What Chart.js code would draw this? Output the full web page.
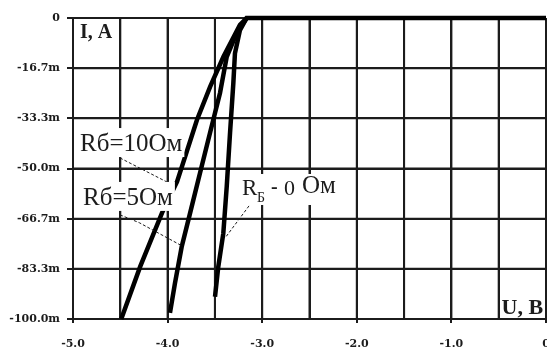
<!DOCTYPE html>
<html>
<head>
<meta charset="utf-8">
<script src="https://cdn.jsdelivr.net/npm/chart.js@4.4.1/dist/chart.umd.min.js"></script>
<style>
  html, body { margin: 0; padding: 0; background: #fff; }
  #wrap { width: 547px; height: 351px; }
</style>
</head>
<body>
<div id="wrap"><canvas id="vac"></canvas></div>
<script>
// ВАХ: ток (мА) от напряжения (В) при разных Rб
const xGrid = [-5, -4.5, -4, -3.5, -3, -2.5, -2, -1.5, -1, -0.5, 0];
const xTickLabels = ["-5.0", "", "-4.0", "", "-3.0", "", "-2.0", "", "-1.0", "", "0"];
const yTickValues = [0, -16.67, -33.33, -50, -66.67, -83.33, -100];
const yTickLabels = ["0", "-16.7m", "-33.3m", "-50.0m", "-66.7m", "-83.3m", "-100.0m"];

const r10U = [-4.49, -4.29, -4.06, -3.90, -3.69, -3.55, -3.41, -3.235, -3.164];
const r10I = [-100, -82.6, -64.8, -54.4, -33.9, -22.8, -12.9, -2.3, 0];

const r5U = [-3.975, -3.922, -3.851, -3.763, -3.658, -3.552, -3.446, -3.375, -3.27, -3.164];
const r5I = [-98, -88.1, -76, -64.9, -51.6, -38.2, -24.9, -12.9, -5, 0];

const r0U = [-3.499, -3.464, -3.411, -3.375, -3.34, -3.305, -3.288, -3.235, -3.164, 0];
const r0I = [-92.6, -82.6, -71.5, -56, -38.2, -21.6, -11.7, -4, 0, 0];

const toPoints = (us, is) => us.map((u, k) => ({ x: u, y: is[k] }));

const ink = "#1c1c1c";

function curve(points) {
    return {
        data: points,
        borderColor: "#000",
        borderWidth: 4.5,
        pointRadius: 0,
        tension: 0,
        clip: 4,
        order: 0
    };
}

// линии сетки как отдельные наборы (рисуются под кривыми)
function gridLine(points) {
    return {
        data: points,
        borderColor: ink,
        borderWidth: 2,
        pointRadius: 0,
        tension: 0,
        clip: 3,
        order: 10
    };
}
const gridSets = [
    ...xGrid.map(v => gridLine([{ x: v, y: -100 }, { x: v, y: 0 }])),
    ...yTickValues.map(v => gridLine([{ x: -5, y: v }, { x: 0, y: v }]))
];

// подписи и выноски
const notes = {
    id: "notes",
    afterDatasetsDraw(chart) {
        const { ctx, scales } = chart;
        const px = v => scales.x.getPixelForValue(v);
        const py = v => scales.y.getPixelForValue(v);
        ctx.save();

        // выноски
        ctx.strokeStyle = ink;
        ctx.lineWidth = 1;
        ctx.setLineDash([3, 2]);
        const leaders = [
            [[-4.503, -46.5], [-4.006, -54.5]],
            [[-4.503, -65.4], [-4.30, -68], [-3.848, -75.7]],
            [[-3.108, -61.1], [-3.393, -73.1]]
        ];
        leaders.forEach(l => {
            ctx.beginPath();
            l.forEach((p, k) => k ? ctx.lineTo(px(p[0]), py(p[1])) : ctx.moveTo(px(p[0]), py(p[1])));
            ctx.stroke();
        });
        ctx.setLineDash([]);

        ctx.textBaseline = "alphabetic";
        ctx.textAlign = "left";

        // Rб=10Ом и Rб=5Ом на белом фоне
        ctx.font = "25px 'Liberation Serif'";
        [["Rб=10Ом", -4.926, -44.2], ["Rб=5Ом", -4.894, -62.1]].forEach(([t, u, i]) => {
            const x = px(u), y = py(i);
            const w = ctx.measureText(t).width;
            ctx.fillStyle = "#fff";
            ctx.fillRect(x - 3, y - 23, w + 5, 29);
            ctx.fillStyle = ink;
            ctx.fillText(t, x, y);
        });

        // RБ - 0 Ом
        {
            const x = px(-3.213), y = py(-58.8);
            ctx.fillStyle = "#fff";
            ctx.fillRect(x - 2, y - 21, 106, 31);
            ctx.fillStyle = ink;
            ctx.font = "23px 'Liberation Serif'";
            ctx.fillText("R", x, y);
            ctx.font = "14px 'Liberation Serif'";
            ctx.fillText("Б", x + 15, y + 7);
            ctx.font = "bold 20px 'Liberation Serif'";
            ctx.fillText("-", x + 29, y - 2);
            ctx.font = "22px 'Liberation Serif'";
            ctx.fillText("0", x + 42, y);
            ctx.font = "25px 'Liberation Serif'";
            ctx.fillText("Ом", x + 60, y - 2);
        }

        // подписи осей
        ctx.font = "bold 20px 'Liberation Serif'";
        ctx.fillText("I, A", px(-4.926), py(-6.6));
        ctx.font = "bold 22px 'Liberation Serif'";
        ctx.fillText("U, B", px(-0.47), py(-98.3));

        ctx.restore();
    }
};

new Chart(document.getElementById("vac"), {
    type: "line",
    data: {
        datasets: [
            curve(toPoints(r10U, r10I)),
            curve(toPoints(r5U, r5I)),
            curve(toPoints(r0U, r0I)),
            ...gridSets
        ]
    },
    options: {
        responsive: true,
        maintainAspectRatio: false,
        animation: false,
        layout: { padding: { top: 18, right: 1, left: 0, bottom: 0 } },
        plugins: { legend: { display: false }, tooltip: { enabled: false } },
        scales: {
            x: {
                type: "linear",
                min: -5,
                max: 0,
                afterBuildTicks: axis => { axis.ticks = xGrid.map(v => ({ value: v })); },
                afterFit: s => { s.height = 32; s.paddingLeft = 0; s.paddingRight = 0; },
                border: { color: ink, width: 2 },
                grid: {
                    color: ink,
                    lineWidth: 2,
                    tickLength: 4,
                    tickColor: xTickLabels.map(t => t ? ink : "rgba(0,0,0,0)")
                },
                ticks: {
                    autoSkip: false,
                    maxRotation: 0,
                    padding: 15,
                    color: ink,
                    font: { family: "'DejaVu Serif'", size: 11, weight: "bold" },
                    callback: (v, k) => xTickLabels[k]
                }
            },
            y: {
                type: "linear",
                min: -100,
                max: 0,
                afterBuildTicks: axis => { axis.ticks = yTickValues.map(v => ({ value: v })); },
                afterFit: s => { s.width = 73; },
                border: { color: ink, width: 2 },
                grid: { color: ink, lineWidth: 2, tickLength: 6 },
                ticks: {
                    autoSkip: false,
                    padding: 7,
                    color: ink,
                    font: { family: "'DejaVu Serif'", size: 11, weight: "bold" },
                    callback: (v, k) => yTickLabels[k]
                }
            }
        }
    },
    plugins: [notes]
});
</script>
</body>
</html>
